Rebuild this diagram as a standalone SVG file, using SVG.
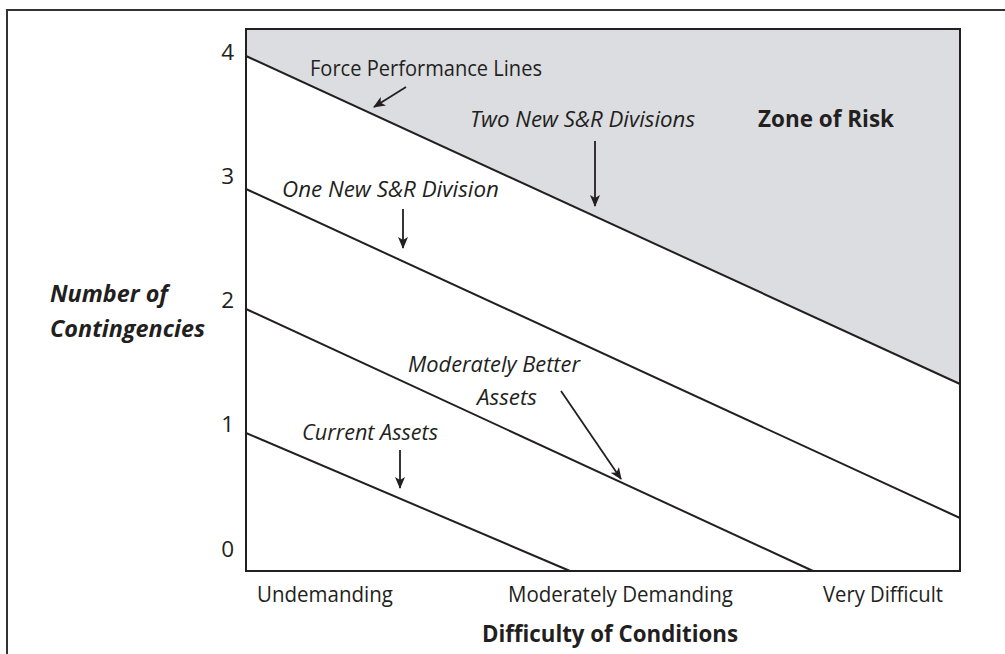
<svg xmlns="http://www.w3.org/2000/svg" width="1005" height="654" viewBox="0 0 1005 654">
<defs>
<style>
text{font-family:"Open Sans","Liberation Sans",sans-serif;fill:#231f20;font-size:22.5px}
.it{font-style:italic}
.b{font-weight:bold}
.tick{text-anchor:end}
.ln{stroke:#231f20;stroke-width:2;fill:none}
.ar{stroke:#231f20;stroke-width:1.8;fill:none;marker-end:url(#ah)}
</style>
<marker id="ah" viewBox="0 0 12 10" refX="11" refY="5" markerWidth="12" markerHeight="10" markerUnits="userSpaceOnUse" orient="auto">
<path d="M0,0 L12,5 L0,10 L3,5 Z" fill="#231f20"/>
</marker>
</defs>
<rect width="1005" height="654" fill="#fff"/>
<g id="frame">
<path d="M7,654 V10 H1005" stroke="#333" stroke-width="2" fill="none"/>
</g>
<g id="zone">
<polygon points="246,29 960,29 960,384 246,56" fill="#dcdde0"/>
<text class="b" x="758" y="127" textLength="136" lengthAdjust="spacingAndGlyphs">Zone of Risk</text>
</g>
<g id="axes">
<rect x="246" y="29" width="714" height="542" class="ln"/>
<text class="tick" x="234" y="60">4</text>
<text class="tick" x="234" y="184">3</text>
<text class="tick" x="234" y="308">2</text>
<text class="tick" x="234" y="432">1</text>
<text class="tick" x="234" y="557">0</text>
<text x="257" y="602" textLength="136" lengthAdjust="spacingAndGlyphs">Undemanding</text>
<text x="508" y="602" textLength="225" lengthAdjust="spacingAndGlyphs">Moderately Demanding</text>
<text x="823" y="602" textLength="120" lengthAdjust="spacingAndGlyphs">Very Difficult</text>
<text class="b" x="482" y="642" textLength="256" lengthAdjust="spacingAndGlyphs">Difficulty of Conditions</text>
<text class="b it" x="50" y="302" font-size="24" textLength="118" lengthAdjust="spacingAndGlyphs">Number of</text>
<text class="b it" x="50" y="337" font-size="24" textLength="155" lengthAdjust="spacingAndGlyphs">Contingencies</text>
</g>
<g id="lines">
<line class="ln" x1="246" y1="56" x2="960" y2="384"/>
<line class="ln" x1="246" y1="189" x2="960" y2="518"/>
<line class="ln" x1="246" y1="309" x2="813" y2="571"/>
<line class="ln" x1="246" y1="433" x2="570" y2="571"/>
</g>
<g id="label-force">
<text x="310" y="76" textLength="232" lengthAdjust="spacingAndGlyphs">Force Performance Lines</text>
</g>
<g id="label-two">
<text class="it" x="470" y="127" textLength="225" lengthAdjust="spacingAndGlyphs">Two New S&amp;R Divisions</text>
</g>
<g id="label-one">
<text class="it" x="282" y="197" textLength="217" lengthAdjust="spacingAndGlyphs">One New S&amp;R Division</text>
</g>
<g id="label-moderate">
<text class="it" x="408" y="372" textLength="172" lengthAdjust="spacingAndGlyphs">Moderately Better</text>
<text class="it" x="477" y="405" textLength="60" lengthAdjust="spacingAndGlyphs">Assets</text>
</g>
<g id="label-current">
<text class="it" x="302" y="440" textLength="136" lengthAdjust="spacingAndGlyphs">Current Assets</text>
</g>
<g id="connectors">
<line class="ar" x1="406" y1="87" x2="374" y2="107"/>
<line class="ar" x1="595" y1="141" x2="595" y2="206"/>
<line class="ar" x1="403" y1="209" x2="403" y2="248"/>
<line class="ar" x1="561" y1="391" x2="621" y2="479"/>
<line class="ar" x1="400" y1="450" x2="400" y2="488"/>
</g>
</svg>
